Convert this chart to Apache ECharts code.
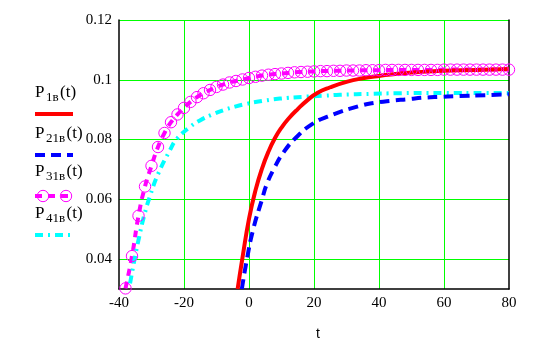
<!DOCTYPE html>
<html>
<head>
<meta charset="utf-8">
<script src="https://cdn.jsdelivr.net/npm/echarts@6/dist/echarts.min.js"></script>
<style>
  html, body { margin: 0; padding: 0; background: #fff; }
  #chart { width: 539px; height: 346px; }
</style>
</head>
<body>
<div id="chart"></div>
<script>
// Axis ranges and tick labels
const xTicks = [-40, -20, 0, 20, 40, 60, 80];
const yTickLabels = ['0.04', '0.06', '0.08', '0.1', '0.12'];

// P1в(t)
const t1 = [-3.5, -2, 0, 2, 4, 6, 8, 10, 12, 15, 18, 21, 25, 30, 35, 40, 45, 50, 55, 60, 70, 80];
const p1 = [0.0300, 0.0405, 0.0535, 0.0630, 0.0703, 0.0760, 0.0805, 0.0840, 0.0868, 0.0902, 0.0932, 0.0956, 0.0975, 0.0993, 0.1005, 0.1013, 0.1019, 0.1024, 0.1028, 0.1030, 0.1033, 0.1036];

// P21в(t)
const t21 = [-2.2, -0.7, 1.3, 4.1, 5.4, 7.8, 10.6, 14.5, 19.3, 24.2, 34.2, 39.3, 43.9, 49, 53.6, 58.8, 63.4, 73.6, 80];
const p21 = [0.030, 0.0396, 0.050, 0.0603, 0.0649, 0.0705, 0.0757, 0.0807, 0.0851, 0.0877, 0.0913, 0.0924, 0.0930, 0.0935, 0.0940, 0.0943, 0.0945, 0.0949, 0.0952];

// P31в(t), one marker per point
const t31 = [-38, -36, -34, -32, -30, -28, -26, -24, -22, -20, -18, -16, -14, -12, -10, -8, -6, -4, -2, 0,
             2, 4, 6, 8, 10, 12, 14, 16, 18, 20, 22, 24, 26, 28, 30, 32, 34, 36, 38, 40,
             42, 44, 46, 48, 50, 52, 54, 56, 58, 60, 62, 64, 66, 68, 70, 72, 74, 76, 78, 80];
const p31 = [0.0302, 0.0410, 0.0545, 0.0643, 0.0712, 0.0775, 0.0822, 0.0858, 0.0884, 0.0906, 0.0926, 0.0942, 0.0955, 0.0966, 0.0976, 0.0984, 0.0991, 0.0996, 0.1001, 0.1006,
             0.1010, 0.1014, 0.1017, 0.1019, 0.1021, 0.1023, 0.1025, 0.1026, 0.1027, 0.1028, 0.1029, 0.1029, 0.1030, 0.1030, 0.1031, 0.1031, 0.1031, 0.1032, 0.1032, 0.1032,
             0.1033, 0.1033, 0.1033, 0.1033, 0.1033, 0.1033, 0.1033, 0.1033, 0.1033, 0.1034, 0.1034, 0.1034, 0.1034, 0.1034, 0.1034, 0.1034, 0.1034, 0.1034, 0.1034, 0.1034];

// P41в(t)
const t41 = [-36.6, -35.2, -33.8, -32.2, -30.3, -28.0, -24.3, -22.2, -18.4, -15.1, -11.5, -7.9, -4.3, -0.9, 2.9, 9.5, 16.7, 23.4, 28, 38, 45, 60, 73, 80];
const p41 = [0.0319, 0.0400, 0.0474, 0.0548, 0.0616, 0.0684, 0.0765, 0.0802, 0.0840, 0.0864, 0.0883, 0.0898, 0.0910, 0.0919, 0.0927, 0.0937, 0.0943, 0.0947, 0.0950, 0.0953, 0.0955, 0.0956, 0.0956, 0.0956];

const zip = (xs, ys) => xs.map((x, i) => [x, ys[i]]);

const GREEN = '#00ff00';
const RED = '#ff0000';
const BLUE = '#0000ff';
const MAGENTA = '#ff00ff';
const CYAN = '#00ffff';
const SERIF = '"Liberation Serif", "Times New Roman", serif';
const CLEAR = 'rgba(0,0,0,0)';

const styles = {
  p1:  { color: RED, width: 4, type: 'solid' },
  p21: { color: BLUE, width: 4, type: [10, 6] },
  p31: { color: MAGENTA, width: 4, type: [7, 6] },
  p41: { color: CYAN, width: 4, type: [8, 5, 2, 5] }
};

// Legend: label "P" + subscript + "(t)" above a line sample
const measure = (() => {
  const ctx = document.createElement('canvas').getContext('2d');
  return (text, size) => { ctx.font = size + 'px ' + SERIF; return ctx.measureText(text).width; };
})();
const MAIN = 17, SUB = 13, GAP = 1.5;
const legendItems = [
  { sub: '1в',  baseline: 98,  lineY: 114, style: styles.p1 },
  { sub: '21в', baseline: 139, lineY: 155, style: styles.p21 },
  { sub: '31в', baseline: 177, lineY: 196, style: styles.p31, circles: true },
  { sub: '41в', baseline: 219, lineY: 235, style: styles.p41 }
];
const graphics = [];
legendItems.forEach(item => {
  const x0 = 35;
  const wP = measure('P', MAIN);
  const wS = measure(item.sub, SUB);
  graphics.push({ type: 'text', left: x0, top: item.baseline - 14,
    style: { text: 'P', font: MAIN + 'px ' + SERIF, fill: '#000' } });
  graphics.push({ type: 'text', left: x0 + wP + GAP, top: item.baseline - 7,
    style: { text: item.sub, font: SUB + 'px ' + SERIF, fill: '#000' } });
  graphics.push({ type: 'text', left: x0 + wP + wS + 2 * GAP, top: item.baseline - 14,
    style: { text: '(t)', font: MAIN + 'px ' + SERIF, fill: '#000' } });
  graphics.push({ type: 'line', shape: { x1: 35, y1: item.lineY, x2: 73, y2: item.lineY },
    style: { stroke: item.style.color, lineWidth: item.style.width,
             lineDash: Array.isArray(item.style.type) ? item.style.type : null } });
  if (item.circles) {
    [43, 66].forEach(cx => graphics.push({ type: 'circle', shape: { cx: cx, cy: item.lineY, r: 5.7 },
      style: { fill: 'none', stroke: MAGENTA, lineWidth: 1 } }));
  }
});

const chart = echarts.init(document.getElementById('chart'), null, { renderer: 'canvas' });

const lineSeries = (name, data, st, extra) => Object.assign({
  name: name,
  type: 'line',
  data: data,
  smooth: 0.5,
  showSymbol: false,
  clip: true,
  lineStyle: { color: st.color, width: st.width, type: st.type, cap: 'butt', join: 'round' },
  itemStyle: { color: st.color },
  emphasis: { disabled: true },
  animation: false
}, extra || {});

chart.setOption({
  backgroundColor: '#fff',
  animation: false,
  grid: { left: 119, top: 20, width: 390, height: 281, containLabel: false },
  xAxis: {
    type: 'value',
    min: xTicks[0], max: xTicks[xTicks.length - 1], interval: 20,
    name: 't',
    nameLocation: 'middle',
    nameGap: 38,
    nameTextStyle: { fontFamily: '"Liberation Sans", Arial, sans-serif', fontSize: 14, color: '#000', padding: [0, 0, 0, 8] },
    axisLine: { show: true, onZero: false, lineStyle: { color: '#000', width: 1.5 } },
    axisTick: { show: false },
    axisLabel: { fontFamily: SERIF, fontSize: 15, color: '#000', margin: 7 },
    splitLine: { show: true, lineStyle: { color: [CLEAR, GREEN, GREEN, GREEN, GREEN, GREEN, CLEAR], width: 1 } }
  },
  yAxis: [{
    type: 'value',
    min: 0.03, max: 0.12, interval: 0.01,
    axisLine: { show: true, onZero: false, lineStyle: { color: '#000', width: 1.5 } },
    axisTick: { show: false },
    axisLabel: {
      fontFamily: SERIF, fontSize: 15, color: '#000', margin: 7,
      formatter: v => {
        const k = Math.round(v * 100);
        const s = (k / 100).toString();
        return yTickLabels.indexOf(s) >= 0 ? s : '';
      }
    },
    splitLine: { show: true, lineStyle: { color: [CLEAR, GREEN], width: 1 } }
  }, {
    type: 'value',
    position: 'right',
    min: 0.03, max: 0.12, interval: 0.01,
    axisLine: { show: true, onZero: false, lineStyle: { color: '#000', width: 1.5 } },
    axisTick: { show: false },
    axisLabel: { show: false },
    splitLine: { show: false }
  }],
  series: [
    lineSeries('P31в(t)', zip(t31, p31), styles.p31, {
      showSymbol: true, symbol: 'circle', symbolSize: 11.4,
      itemStyle: { color: CLEAR, borderColor: MAGENTA, borderWidth: 1 }
    }),
    lineSeries('P41в(t)', zip(t41, p41), styles.p41),
    lineSeries('P21в(t)', zip(t21, p21), styles.p21),
    lineSeries('P1в(t)', zip(t1, p1), styles.p1)
  ],
  graphic: graphics
});
</script>
</body>
</html>
